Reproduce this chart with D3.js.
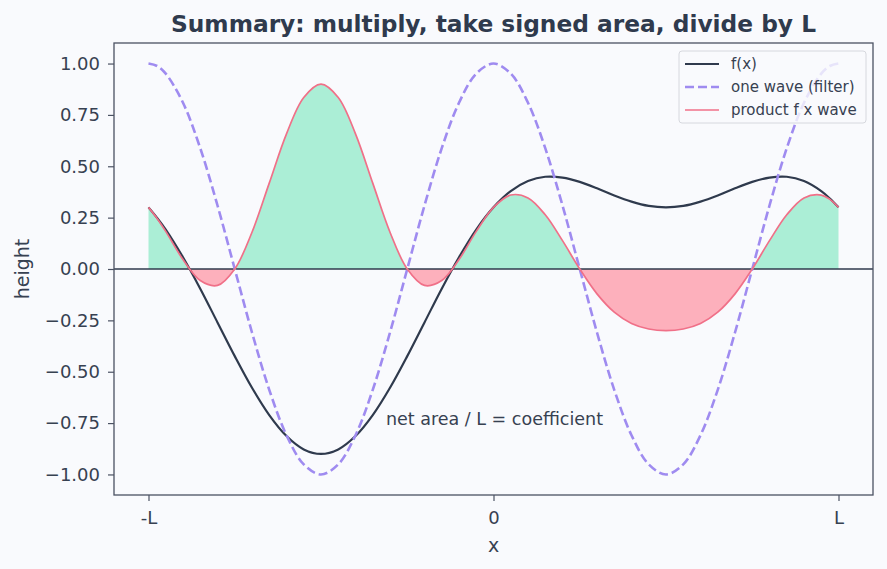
<!DOCTYPE html>
<html><head><meta charset="utf-8">
<script src="https://cdn.jsdelivr.net/npm/d3@7"></script>
<style>body{margin:0;background:#f9fafd;} svg{display:block;font-family:"DejaVu Sans",sans-serif;}</style>
</head><body><svg id="c" width="887" height="569"></svg>
<script>
// x positions in units of L
const xs = [-1.00,-0.975,-0.95,-0.90,-0.85,-0.80,-0.75,-0.70,-0.65,-0.60,-0.55,-0.50,-0.45,-0.40,-0.35,-0.30,-0.25,-0.20,-0.15,-0.10,-0.05,
             0.00, 0.05, 0.10, 0.15, 0.20, 0.25, 0.30, 0.35, 0.40, 0.45, 0.50, 0.55, 0.60, 0.65, 0.70, 0.75, 0.80, 0.85, 0.90, 0.95, 0.975, 1.00];
const fVals = [0.300,0.249,0.192,0.057,-0.096,-0.260,-0.424,-0.578,-0.711,-0.813,-0.878,-0.900,-0.878,-0.813,-0.711,-0.578,-0.424,-0.260,-0.096,0.057,0.192,
               0.300,0.379,0.428,0.449,0.445,0.424,0.393,0.358,0.328,0.307,0.300,0.307,0.328,0.358,0.393,0.424,0.445,0.449,0.428,0.379,0.343,0.300];
const waveVals = [1,0.988,0.951,0.809,0.588,0.309,0,-0.309,-0.588,-0.809,-0.951,-1,-0.951,-0.809,-0.588,-0.309,0,0.309,0.588,0.809,0.951,
                  1,0.951,0.809,0.588,0.309,0,-0.309,-0.588,-0.809,-0.951,-1,-0.951,-0.809,-0.588,-0.309,0,0.309,0.588,0.809,0.951,0.988,1];
const prodVals = [0.300,0.246,0.183,0.046,-0.056,-0.080,0,0.179,0.418,0.658,0.835,0.900,0.835,0.658,0.418,0.179,0,-0.080,-0.056,0.046,0.183,
                  0.300,0.360,0.346,0.264,0.138,0,-0.121,-0.210,-0.265,-0.292,-0.300,-0.292,-0.265,-0.210,-0.121,0,0.138,0.264,0.346,0.360,0.339,0.300];
const xTickVals = [-1, 0, 1];
const xTickLabels = ["-L", "0", "L"];
const yTickVals = [-1, -0.75, -0.5, -0.25, 0, 0.25, 0.5, 0.75, 1];
const seriesNames = ["f(x)", "one wave (filter)", "product f x wave"];

const svg = d3.select("#c");
const W = 887, H = 569;
const m = {l:114, r:14, t:43, b:74};
const pw = W - m.l - m.r, ph = H - m.t - m.b;
const x = d3.scaleLinear().domain([-1.1, 1.1]).range([m.l, m.l + pw]);
const y = d3.scaleLinear().domain([-1.1, 1.1]).range([m.t + ph, m.t]);

const cF = "#2f3a4d", cW = "#9f8bf0", cP = "#f07088";
const txt = "#374151";

svg.append("rect").attr("width", W).attr("height", H).attr("fill", "#f9fafd");

const defs = svg.append("defs");
defs.append("clipPath").attr("id","above").append("rect")
  .attr("x", m.l).attr("y", m.t).attr("width", pw).attr("height", y(0) - m.t);
defs.append("clipPath").attr("id","below").append("rect")
  .attr("x", m.l).attr("y", y(0)).attr("width", pw).attr("height", m.t + ph - y(0));

const pts = (vals) => xs.map((v, i) => [v, vals[i]]);
const area = d3.area().x(d => x(d[0])).y0(y(0)).y1(d => y(d[1])).curve(d3.curveCatmullRom);
const line = d3.line().x(d => x(d[0])).y(d => y(d[1])).curve(d3.curveCatmullRom);

svg.append("path").attr("d", area(pts(prodVals))).attr("fill", "#abeed6").attr("clip-path", "url(#above)");
svg.append("path").attr("d", area(pts(prodVals))).attr("fill", "#fdb0bc").attr("clip-path", "url(#below)");

svg.append("line").attr("x1", m.l).attr("x2", m.l + pw).attr("y1", y(0)).attr("y2", y(0))
  .attr("stroke", cF).attr("stroke-width", 1.4);

svg.append("path").attr("d", line(pts(fVals))).attr("fill", "none").attr("stroke", cF).attr("stroke-width", 2.2);
svg.append("path").attr("d", line(pts(waveVals))).attr("fill", "none").attr("stroke", cW).attr("stroke-width", 2.6)
  .attr("stroke-dasharray", "9,4");
svg.append("path").attr("d", line(pts(prodVals))).attr("fill", "none").attr("stroke", cP).attr("stroke-width", 1.7);

// frame
svg.append("rect").attr("x", m.l).attr("y", m.t).attr("width", pw).attr("height", ph)
  .attr("fill", "none").attr("stroke", "#4b5263").attr("stroke-width", 1.3);

// axes
const xAxis = d3.axisBottom(x).tickValues(xTickVals).tickFormat((d, i) => xTickLabels[i]).tickSize(6).tickPadding(10);
const gx = svg.append("g").attr("transform", `translate(0,${m.t + ph})`).call(xAxis);
const yAxis = d3.axisLeft(y).tickValues(yTickVals).tickFormat(d3.format(".2f")).tickSize(6).tickPadding(8);
const gy = svg.append("g").attr("transform", `translate(${m.l},0)`).call(yAxis);
[gx, gy].forEach(g => {
  g.select(".domain").remove();
  g.selectAll(".tick line").attr("stroke", "#4b5263").attr("stroke-width", 1.2);
  g.selectAll(".tick text").attr("fill", txt).attr("font-size", 18).attr("font-family", "DejaVu Sans");
});
gy.selectAll(".tick text").text(function(){ return d3.select(this).text().replace("-", "\u2212"); });

svg.append("text").attr("x", x(0)).attr("y", 552).attr("text-anchor", "middle")
  .attr("fill", txt).attr("font-size", 19).text("x");
svg.append("text").attr("transform", `translate(29,${y(0)}) rotate(-90)`).attr("text-anchor", "middle")
  .attr("fill", txt).attr("font-size", 19).text("height");
svg.append("text").attr("x", 493.5).attr("y", 32).attr("text-anchor", "middle")
  .attr("fill", "#2f3a4d").attr("font-size", 23.3).attr("font-weight", "bold").text("Summary: multiply, take signed area, divide by L");

svg.append("text").attr("x", 494.5).attr("y", y(-0.73)).attr("text-anchor", "middle").attr("dominant-baseline", "central")
  .attr("fill", txt).attr("font-size", 17.5).text("net area / L = coefficient");

// legend
const lg = svg.append("g").attr("transform", "translate(679,51)");
lg.append("rect").attr("width", 187).attr("height", 72).attr("rx", 3)
  .attr("fill", "#f9fafd").attr("fill-opacity", 0.8).attr("stroke", "#d6d8de");
const lstyles = [{c:cF, w:2.2, d:null}, {c:cW, w:2.6, d:"9,4"}, {c:cP, w:1.7, d:null}];
seriesNames.forEach((n, i) => {
  const yy = 13 + i * 23;
  lg.append("line").attr("x1", 6).attr("x2", 40).attr("y1", yy).attr("y2", yy)
    .attr("stroke", lstyles[i].c).attr("stroke-width", lstyles[i].w).attr("stroke-dasharray", lstyles[i].d);
  lg.append("text").attr("x", 52).attr("y", yy).attr("dominant-baseline", "central")
    .attr("fill", txt).attr("font-size", 15).text(n);
});
</script></body></html>
